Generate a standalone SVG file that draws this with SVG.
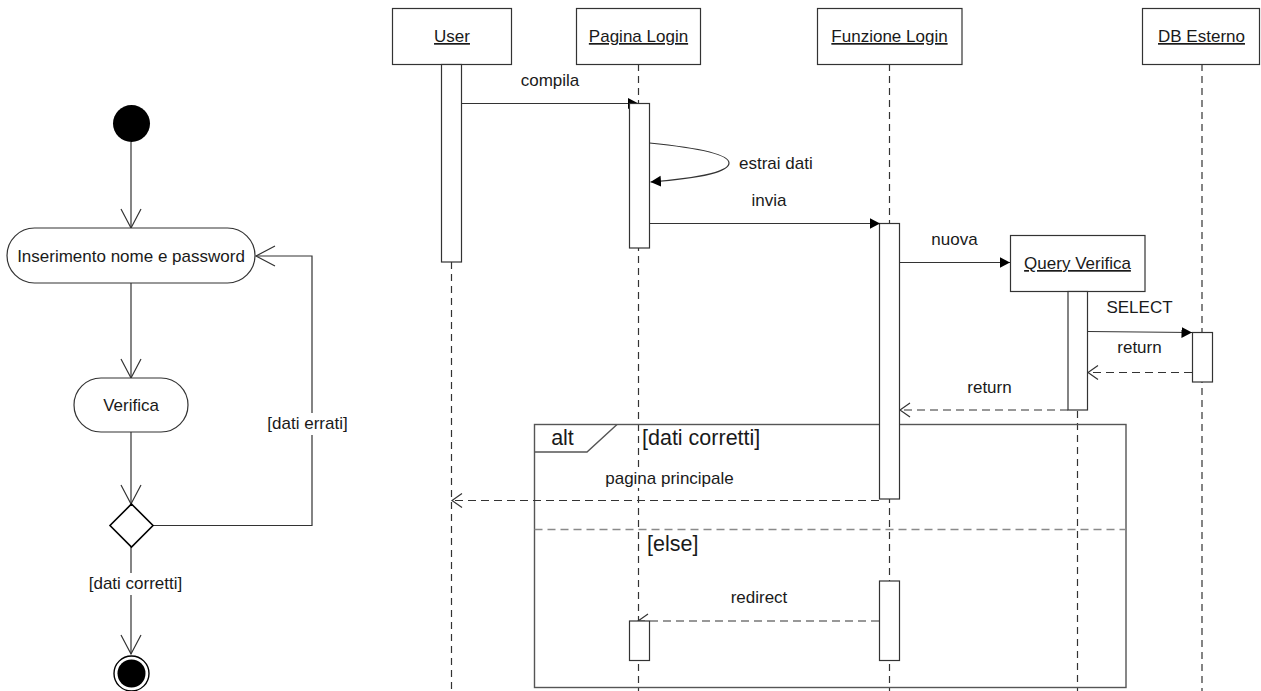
<svg xmlns="http://www.w3.org/2000/svg" width="1261" height="691" viewBox="0 0 1261 691">
  <style>
    text { font-family: "Liberation Sans", Arial, sans-serif; font-size: 17px; fill: #1a1a1a; }
    .mid { text-anchor: middle; }
    .big { font-size: 21.5px; }
    .ul { text-decoration: underline; }
    .line { stroke: #333; stroke-width: 1.2; fill: none; }
    .box { stroke: #333; stroke-width: 1.2; fill: #fff; }
    .life { stroke: #333; stroke-width: 1.2; stroke-dasharray: 7 5; fill: none; }
    .ret { stroke: #333; stroke-width: 1.2; stroke-dasharray: 8 5; fill: none; }
    .sep { stroke: #8a8a8a; stroke-width: 1.4; stroke-dasharray: 8 5; fill: none; }
    .frame { stroke: #555; stroke-width: 1.4; fill: none; }
    .bg { fill: #fff; }
  </style>
  <defs>
    <marker id="act-open" viewBox="0 0 22 22" refX="20" refY="11" markerWidth="22" markerHeight="22" markerUnits="userSpaceOnUse" orient="auto">
      <path d="M1,1 L20,11 L1,21" fill="none" stroke="#333" stroke-width="1.2"/>
    </marker>
    <marker id="msg-open" viewBox="0 0 12 16" refX="11" refY="8" markerWidth="12" markerHeight="16" markerUnits="userSpaceOnUse" orient="auto">
      <path d="M1,1 L11,8 L1,15" fill="none" stroke="#333" stroke-width="1.2"/>
    </marker>
    <marker id="msg-fill" viewBox="0 0 11 12" refX="10.5" refY="6" markerWidth="11" markerHeight="12" markerUnits="userSpaceOnUse" orient="auto">
      <path d="M0,0.5 L10.5,6 L0,11.5 Z" fill="#000"/>
    </marker>
  </defs>

  <!-- activity diagram -->
  <g id="activity-edges">
    <line class="line" x1="131" y1="142" x2="131" y2="228" marker-end="url(#act-open)"/>
    <line class="line" x1="131" y1="283" x2="131" y2="378" marker-end="url(#act-open)"/>
    <line class="line" x1="131" y1="432" x2="131" y2="504" marker-end="url(#act-open)"/>
    <polyline class="line" points="153,525.5 312,525.5 312,256 256,256" marker-end="url(#act-open)"/>
    <line class="line" x1="131" y1="547" x2="131" y2="654" marker-end="url(#act-open)"/>
    <rect class="bg" x="266" y="413" width="84" height="22"/>
    <text class="mid" x="307.5" y="429">[dati errati]</text>
    <rect class="bg" x="87" y="573" width="98" height="22"/>
    <text class="mid" x="135.5" y="589">[dati corretti]</text>
  </g>
  <g id="start">
    <circle cx="131.5" cy="123.5" r="18.5" fill="#000"/>
  </g>
  <g id="inserimento">
    <rect class="box" x="7" y="228" width="248" height="55" rx="27.5"/>
    <text class="mid" x="131" y="262">Inserimento nome e password</text>
  </g>
  <g id="verifica">
    <rect class="box" x="74" y="378" width="114" height="54" rx="27"/>
    <text class="mid" x="131" y="411">Verifica</text>
  </g>
  <g id="decision">
    <polygon points="131.5,504 153,525.5 131.5,547 110,525.5" fill="#fff" stroke="#000" stroke-width="1.6"/>
  </g>
  <g id="end">
    <circle cx="131.5" cy="673.5" r="17.5" fill="#fff" stroke="#000" stroke-width="1.4"/>
    <circle cx="131.5" cy="673.5" r="14" fill="#000"/>
  </g>

  <!-- sequence diagram: lifelines -->
  <g id="lifelines">
    <line class="life" x1="451.5" y1="262" x2="451.5" y2="691"/>
    <line class="life" x1="638.5" y1="64" x2="638.5" y2="691"/>
    <line class="life" x1="889.5" y1="64" x2="889.5" y2="691"/>
    <line class="life" x1="1077.5" y1="291" x2="1077.5" y2="691"/>
    <line class="life" x1="1202" y1="64" x2="1202" y2="691"/>
  </g>

  <g id="alt-frame">
    <rect class="frame" x="534.5" y="424.5" width="591.5" height="263"/>
    <polyline class="frame" points="534.5,452 587,452 617,424.5"/>
    <line class="sep" x1="534.5" y1="529.5" x2="1126" y2="529.5"/>
    <text class="mid big" x="562.5" y="445">alt</text>
    <text class="big" x="642" y="445">[dati corretti]</text>
    <text class="big" x="647" y="551">[else]</text>
  </g>

  <g id="user">
    <rect class="box" x="392.5" y="8.5" width="119" height="56"/>
    <text class="mid ul" x="452" y="42">User</text>
    <rect class="box" x="441.5" y="64.5" width="20" height="197.5"/>
  </g>
  <g id="pagina-login">
    <rect class="box" x="576.5" y="8.5" width="124" height="56"/>
    <text class="mid ul" x="638.5" y="42">Pagina Login</text>
  </g>
  <g id="funzione-login">
    <rect class="box" x="817.5" y="8.5" width="144.5" height="56"/>
    <text class="mid ul" x="889.5" y="42">Funzione Login</text>
  </g>
  <g id="db-esterno">
    <rect class="box" x="1142.5" y="8.5" width="117" height="56"/>
    <text class="mid ul" x="1201.5" y="42">DB Esterno</text>
  </g>

  <!-- messages -->
  <g id="messages">
    <line class="line" x1="461.5" y1="103.5" x2="638.5" y2="103.5" marker-end="url(#msg-fill)"/>
    <text class="mid" x="550" y="86">compila</text>

    <line class="line" x1="649.5" y1="223.5" x2="879.5" y2="223.5"/>
    <text class="mid" x="769" y="206">invia</text>

    <line class="line" x1="899.5" y1="262.5" x2="1010" y2="262.5" marker-end="url(#msg-fill)"/>
    <text class="mid" x="954.5" y="245">nuova</text>

    <line class="line" x1="1087.5" y1="331.5" x2="1192" y2="332.5" marker-end="url(#msg-fill)"/>
    <text class="mid" x="1139.5" y="313">SELECT</text>

    <line class="ret" x1="1192" y1="372.5" x2="1088" y2="372.5" marker-end="url(#msg-open)"/>
    <text class="mid" x="1139.5" y="353">return</text>

    <line class="ret" x1="1068" y1="410" x2="900" y2="410" marker-end="url(#msg-open)"/>
    <text class="mid" x="989.5" y="393">return</text>

    <line class="ret" x1="879" y1="500.5" x2="452" y2="500.5" marker-end="url(#msg-open)"/>
    <rect class="bg" x="600" y="467" width="139" height="21"/>
    <text class="mid" x="669.5" y="484">pagina principale</text>

    <line class="ret" x1="879" y1="621" x2="638" y2="621" marker-end="url(#msg-open)"/>
    <text class="mid" x="759" y="603">redirect</text>
  </g>

  <!-- activations drawn over the message ends -->
  <g id="activations">
    <rect class="box" x="629.5" y="103.5" width="20" height="144.5"/>
    <rect class="box" x="879.5" y="223.5" width="20" height="275.5"/>
    <rect class="box" x="1010.5" y="235.5" width="134.5" height="56"/>
    <text class="mid ul" x="1077.5" y="269">Query Verifica</text>
    <rect class="box" x="1068" y="291.5" width="19.5" height="118.5"/>
    <rect class="box" x="1192.5" y="332.5" width="20" height="49.5"/>
    <rect class="box" x="629.5" y="621" width="20" height="39.5"/>
    <rect class="box" x="879.5" y="581" width="20" height="79.5"/>
  </g>

  <!-- arrowheads that sit on top of activation bars -->
  <g id="message-heads">
    <line class="line" x1="870" y1="223.5" x2="880" y2="223.5" marker-end="url(#msg-fill)"/>
    <path class="line" d="M649.5,143 C690,147 729,153 729,163 C729,173 690,179 650.5,182" marker-end="url(#msg-fill)"/>
    <text x="739" y="169">estrai dati</text>
  </g>
</svg>
